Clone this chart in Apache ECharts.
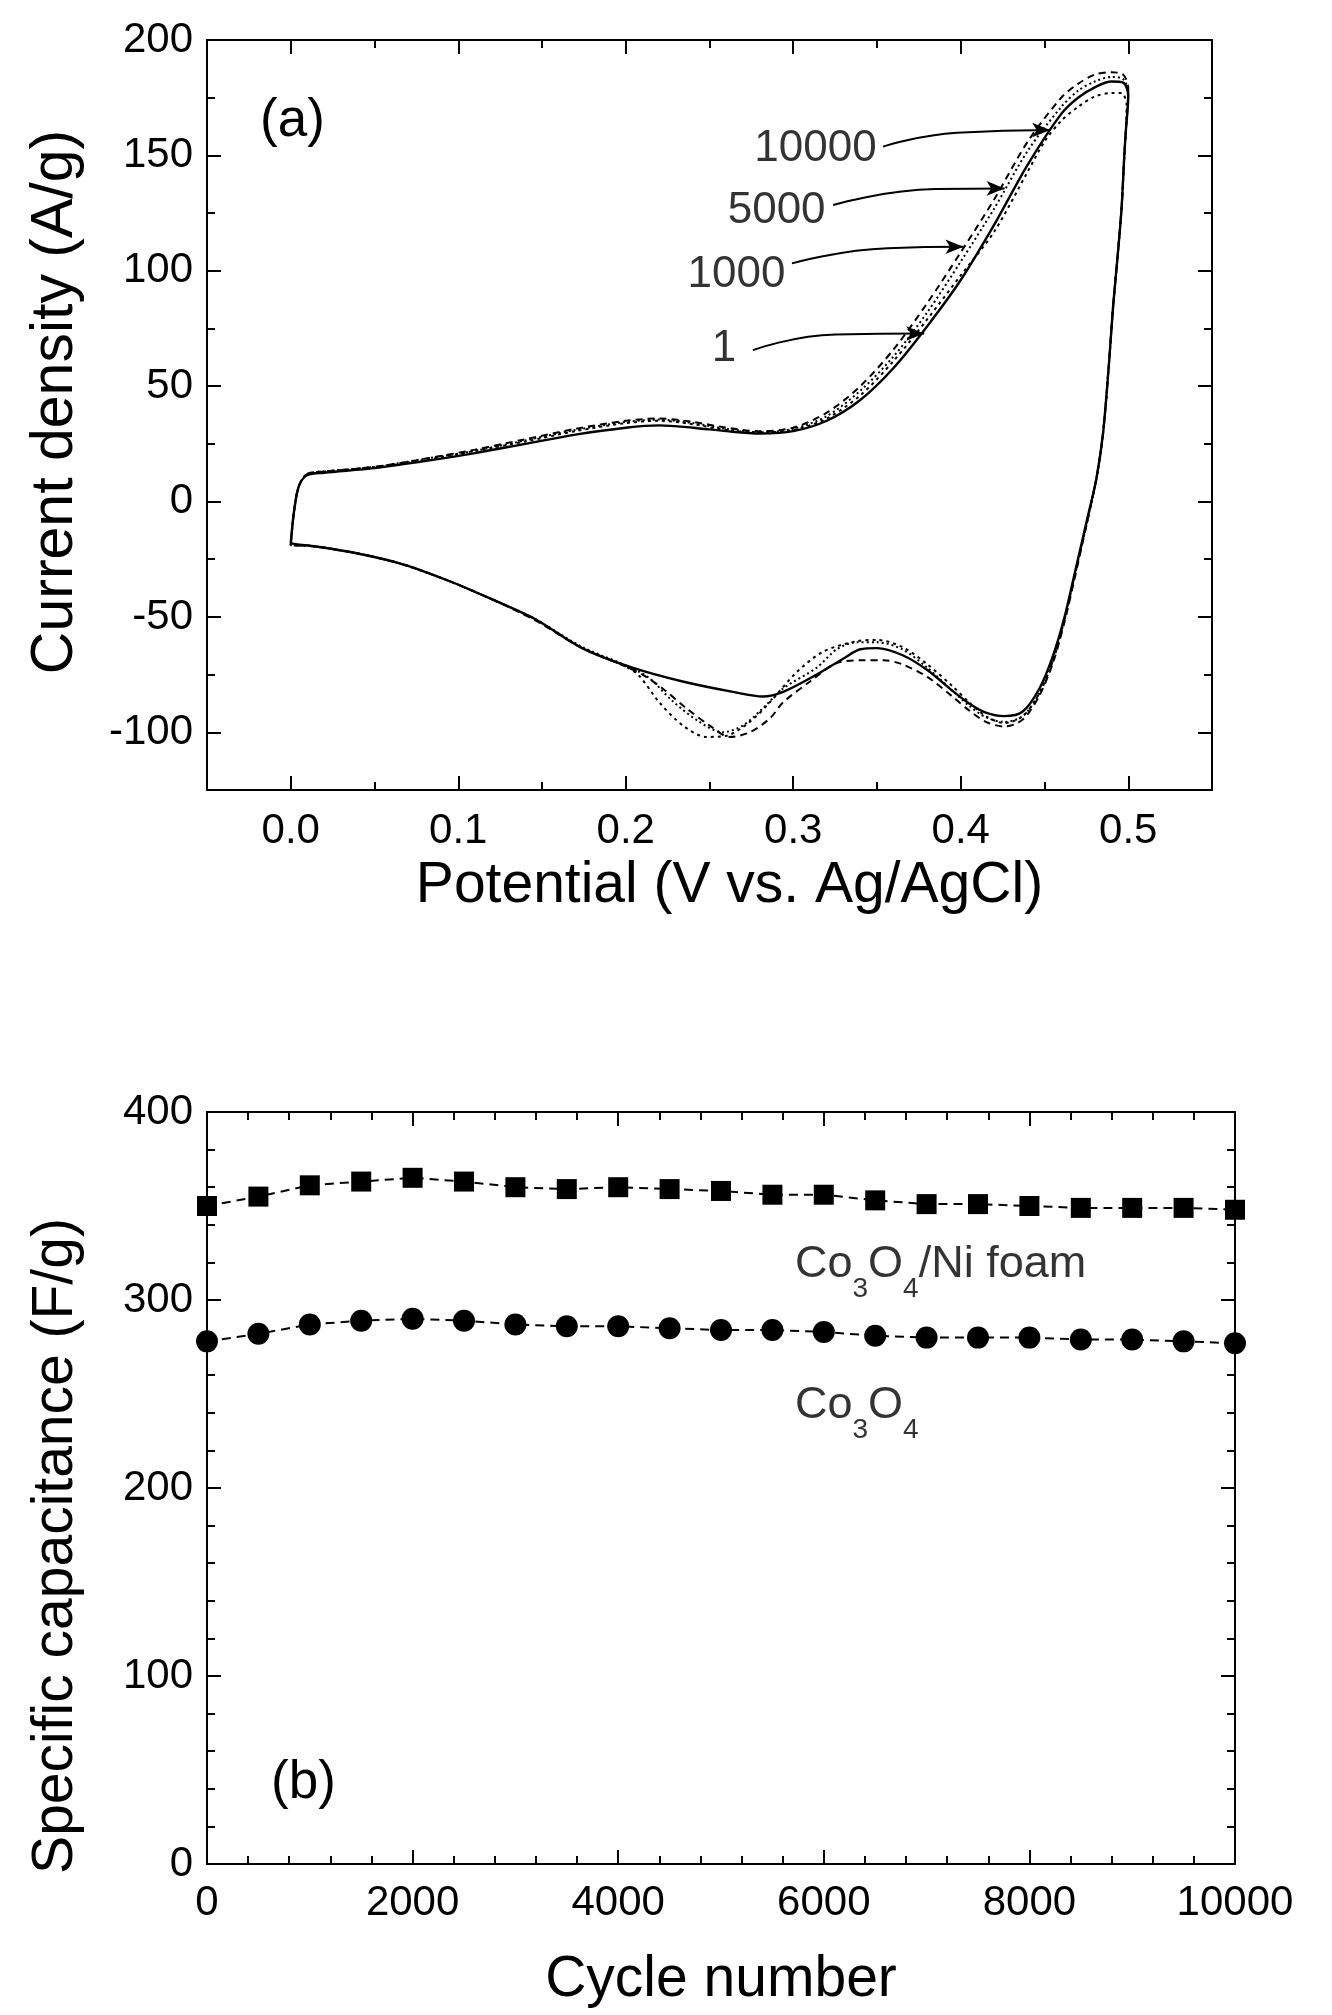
<!DOCTYPE html>
<html><head><meta charset="utf-8">
<script src="https://cdn.jsdelivr.net/npm/echarts@6.0.0/dist/echarts.min.js"></script>
<style>html,body{margin:0;padding:0;background:#fff}#chart{width:1332px;height:2015px}</style>
</head><body><div id="chart"></div>
<script>
const FONT = '"Liberation Sans", Arial, Helvetica, sans-serif';

// ---------- Panel (a): cyclic voltammograms [potential V, current A/g] ----------
const cycle1 = [[0,-18],[0.002,-4],[0.005,7],[0.01,11.5],[0.02,12.5],[0.05,14.5],[0.08,17.5],[0.11,21],[0.14,25],[0.17,29],[0.2,32],[0.22,33],[0.24,32],[0.26,30.5],[0.28,29.5],[0.3,30.5],[0.32,35],[0.34,44],[0.36,58],[0.38,76],[0.4,96],[0.42,120],[0.44,146],[0.46,168],[0.47,175],[0.48,179.5],[0.49,182],[0.497,181.5],[0.5,176],[0.4985,160],[0.4975,148],[0.496,127],[0.4935,105],[0.491,85],[0.4885,60],[0.485,30],[0.481,10],[0.476,-6],[0.469,-28],[0.462,-50],[0.455,-67],[0.447,-81],[0.437,-91],[0.426,-93],[0.415,-91.5],[0.405,-87.5],[0.395,-82],[0.38,-73],[0.365,-66.5],[0.35,-63.5],[0.34,-64],[0.33,-68],[0.314,-75],[0.294,-82.5],[0.282,-84.5],[0.264,-82.5],[0.234,-78],[0.204,-72],[0.174,-63.5],[0.146,-51],[0.119,-42],[0.093,-34],[0.066,-27],[0.04,-22.5],[0.015,-19.5],[0.003,-18.5],[0,-18]];
const cycle1000 = [[0,-19],[0.002,-4],[0.005,7],[0.01,12],[0.02,13],[0.05,15],[0.08,18.5],[0.11,22],[0.14,26.5],[0.17,31],[0.2,34.5],[0.22,35.5],[0.24,34],[0.26,31.5],[0.28,30],[0.3,31.5],[0.32,37],[0.34,48],[0.36,63],[0.38,82],[0.4,104],[0.42,127],[0.44,152],[0.46,171],[0.47,178],[0.48,182],[0.49,184],[0.497,183],[0.5,177],[0.4985,160],[0.4975,148],[0.496,127],[0.4935,105],[0.491,85],[0.4885,60],[0.485,30],[0.481,10],[0.476,-7],[0.469,-29],[0.462,-51],[0.455,-69],[0.447,-83],[0.437,-93],[0.426,-95.5],[0.415,-93.5],[0.405,-88.5],[0.395,-82],[0.38,-72],[0.365,-64],[0.35,-61],[0.338,-61],[0.326,-64],[0.314,-72],[0.294,-81],[0.282,-89.5],[0.27,-97],[0.258,-100],[0.244,-95.5],[0.228,-86.5],[0.214,-76.5],[0.2,-71],[0.174,-63],[0.146,-51],[0.119,-42],[0.093,-34],[0.066,-27],[0.04,-22.5],[0.015,-19.5],[0.003,-19],[0,-19]];
const cycle5000 = [[0,-19],[0.002,-4],[0.005,7],[0.01,12],[0.02,13],[0.05,15],[0.08,18.5],[0.11,22.5],[0.14,27],[0.17,31.5],[0.2,35],[0.22,36],[0.24,34.5],[0.26,32],[0.28,30.5],[0.3,32],[0.32,38.5],[0.34,50],[0.36,66],[0.38,86],[0.4,108],[0.42,131],[0.44,156],[0.46,175],[0.47,181],[0.48,185],[0.49,186],[0.497,185],[0.5,179],[0.4985,160],[0.4975,148],[0.496,127],[0.4935,105],[0.491,85],[0.4885,60],[0.485,30],[0.481,10],[0.476,-7],[0.469,-30],[0.462,-52],[0.455,-70],[0.447,-84],[0.437,-94.5],[0.426,-97.5],[0.415,-95.5],[0.405,-90.5],[0.395,-84.5],[0.38,-76],[0.365,-70.5],[0.354,-68.8],[0.342,-68.8],[0.326,-70],[0.31,-78],[0.294,-87],[0.286,-94],[0.274,-100],[0.262,-102],[0.25,-97],[0.236,-89.5],[0.222,-81],[0.21,-75],[0.2,-71.5],[0.174,-63.5],[0.146,-51.5],[0.119,-42],[0.093,-34],[0.066,-27],[0.04,-22.5],[0.015,-19.5],[0.003,-19],[0,-19]];
const cycle10000 = [[0,-19],[0.002,-4],[0.005,7],[0.01,12],[0.02,13],[0.05,15],[0.08,18],[0.11,22],[0.14,26],[0.17,30.5],[0.2,34],[0.22,35],[0.24,33.5],[0.26,31],[0.28,30],[0.3,31],[0.32,36],[0.34,46],[0.36,61],[0.38,79],[0.4,98],[0.42,117],[0.44,143],[0.45,156],[0.46,165],[0.47,171],[0.48,175.5],[0.49,177],[0.496,177],[0.499,172],[0.4985,160],[0.4975,148],[0.496,127],[0.4935,105],[0.491,85],[0.4885,60],[0.485,30],[0.481,10],[0.476,-7],[0.469,-29],[0.462,-51],[0.455,-69],[0.447,-83],[0.437,-93],[0.426,-96],[0.415,-93],[0.405,-87],[0.395,-80],[0.38,-70.5],[0.365,-63],[0.35,-60],[0.338,-60.5],[0.318,-65],[0.302,-74],[0.286,-87],[0.274,-95.5],[0.26,-101.5],[0.248,-102],[0.234,-97],[0.22,-87],[0.208,-75.5],[0.2,-71.5],[0.174,-63.5],[0.146,-51],[0.119,-42],[0.093,-34],[0.066,-27],[0.04,-22.5],[0.015,-19.5],[0.003,-19],[0,-19]];

const potentialTicks = [0, 0.1, 0.2, 0.3, 0.4, 0.5];
const currentTicks = [-100, -50, 0, 50, 100, 150, 200];

// cycle labels: text, label anchor, and the leader line (start, bend, arrow tip)
const cycleLabels = ['10000', '5000', '1000', '1'];
const cycleLabelAnchors = [[0.3498, 152.7], [0.3193, 126], [0.2953, 98.3], [0.266, 66]];
const leaderPaths = [
  [[0.3536, 153.8], [0.3977, 159.8], [0.4534, 161]],
  [[0.3238, 128.5], [0.3847, 135.4], [0.4262, 135.7]],
  [[0.2992, 103.2], [0.3562, 109.8], [0.4016, 110.4]],
  [[0.2759, 65.6], [0.3251, 72.4], [0.3782, 72.8]]
];

// ---------- Panel (b): specific capacitance vs cycle number ----------
const cycleNumbers = [0,500,1000,1500,2000,2500,3000,3500,4000,4500,5000,5500,6000,6500,7000,7500,8000,8500,9000,9500,10000];
const capNiFoam = [350,355,361,363,365,363,360,359,360,359,358,356,356,353,351,351,350,349,349,349,348];
const capCo3O4 = [278,282,287,289,290,289,287,286,286,285,284,284,283,281,280,280,280,279,279,278,277];
const seriesLabelAnchors = [[5720, 319], [5720, 244]];
const seriesLabelTexts = ['{m|Co}{s|3}{m|O}{s|4}{m|/Ni foam}', '{m|Co}{s|3}{m|O}{s|4}'];

const black = '#000';
const axisLine = { show: true, onZero: false, lineStyle: { color: black, width: 2 } };
const noLine = { show: false, onZero: false };
const labelStyle = { color: black, fontSize: 42, fontFamily: FONT };
const nameStyle = { color: black, fontSize: 57, fontFamily: FONT };
const tickStyle = { color: black, width: 2 };

function pair(a, b) { return a.map((v, i) => [v, b[i]]); }

const chart = echarts.init(document.getElementById('chart'), null, { renderer: 'canvas' });

const xAxes = [
  { gridIndex: 0, type: 'value', position: 'bottom', min: -0.05, max: 0.55,
    axisLine: axisLine, splitLine: { show: false },
    axisTick: { inside: true, length: 14, customValues: potentialTicks, lineStyle: tickStyle },
    axisLabel: { ...labelStyle, margin: 20, customValues: potentialTicks, formatter: v => v.toFixed(1) },
    name: 'Potential (V vs. Ag/AgCl)', nameLocation: 'middle', nameGap: 68,
    nameTextStyle: { ...nameStyle, padding: [0, 0, 0, 40] } },
  { gridIndex: 0, type: 'value', position: 'bottom', min: -0.05, max: 0.55, interval: 0.05,
    axisLine: noLine, splitLine: { show: false }, axisLabel: { show: false },
    axisTick: { inside: true, length: 8, lineStyle: tickStyle } },
  { gridIndex: 0, type: 'value', position: 'top', min: -0.05, max: 0.55,
    axisLine: axisLine, splitLine: { show: false }, axisLabel: { show: false },
    axisTick: { inside: true, length: 14, customValues: potentialTicks, lineStyle: tickStyle } },
  { gridIndex: 0, type: 'value', position: 'top', min: -0.05, max: 0.55, interval: 0.05,
    axisLine: noLine, splitLine: { show: false }, axisLabel: { show: false },
    axisTick: { inside: true, length: 8, lineStyle: tickStyle } },
  { gridIndex: 1, type: 'value', position: 'bottom', min: 0, max: 10000, interval: 2000,
    axisLine: axisLine, splitLine: { show: false },
    axisTick: { inside: true, length: 14, lineStyle: tickStyle },
    minorTick: { show: true, splitNumber: 5, length: 8, lineStyle: tickStyle },
    axisLabel: { ...labelStyle, margin: 18, formatter: v => String(v) },
    name: 'Cycle number', nameLocation: 'middle', nameGap: 88, nameTextStyle: nameStyle },
  { gridIndex: 1, type: 'value', position: 'top', min: 0, max: 10000, interval: 2000,
    axisLine: axisLine, splitLine: { show: false }, axisLabel: { show: false },
    axisTick: { inside: true, length: 14, lineStyle: tickStyle },
    minorTick: { show: true, splitNumber: 5, length: 8, lineStyle: tickStyle } }
];

const yAxes = [
  { gridIndex: 0, type: 'value', position: 'left', min: -125, max: 200,
    axisLine: axisLine, splitLine: { show: false },
    axisTick: { inside: true, length: 14, customValues: currentTicks, lineStyle: tickStyle },
    axisLabel: { ...labelStyle, margin: 14, customValues: currentTicks },
    name: 'Current density (A/g)', nameLocation: 'middle', nameRotate: 90, nameGap: 122,
    nameTextStyle: { ...nameStyle, fontSize: 59, padding: [0, 0, 0, 26] } },
  { gridIndex: 0, type: 'value', position: 'left', min: -125, max: 200, interval: 25,
    axisLine: noLine, splitLine: { show: false }, axisLabel: { show: false },
    axisTick: { inside: true, length: 8, lineStyle: tickStyle } },
  { gridIndex: 0, type: 'value', position: 'right', min: -125, max: 200,
    axisLine: axisLine, splitLine: { show: false }, axisLabel: { show: false },
    axisTick: { inside: true, length: 14, customValues: currentTicks, lineStyle: tickStyle } },
  { gridIndex: 0, type: 'value', position: 'right', min: -125, max: 200, interval: 25,
    axisLine: noLine, splitLine: { show: false }, axisLabel: { show: false },
    axisTick: { inside: true, length: 8, lineStyle: tickStyle } },
  { gridIndex: 1, type: 'value', position: 'left', min: 0, max: 400, interval: 100,
    axisLine: axisLine, splitLine: { show: false },
    axisTick: { inside: true, length: 14, lineStyle: tickStyle },
    minorTick: { show: true, splitNumber: 5, length: 8, lineStyle: tickStyle },
    axisLabel: { ...labelStyle, margin: 14 },
    name: 'Specific capacitance (F/g)', nameLocation: 'middle', nameRotate: 90, nameGap: 122,
    nameTextStyle: { ...nameStyle, padding: [0, 116, 0, 0] } },
  { gridIndex: 1, type: 'value', position: 'right', min: 0, max: 400, interval: 100,
    axisLine: axisLine, splitLine: { show: false }, axisLabel: { show: false },
    axisTick: { inside: true, length: 14, lineStyle: tickStyle },
    minorTick: { show: true, splitNumber: 5, length: 8, lineStyle: tickStyle } }
];

function cvSeries(name, data, type, width) {
  return { name, type: 'line', xAxisIndex: 0, yAxisIndex: 0, data, smooth: 0.3,
    showSymbol: false, symbol: 'none', clip: false,
    lineStyle: { color: black, width, type } };
}

function leaderSeries(path, i) {
  return { name: 'leader ' + cycleLabels[i], type: 'line', xAxisIndex: 0, yAxisIndex: 0, silent: true,
    smooth: 0.5, clip: false, showSymbol: true,
    data: path.map((p, k) => k === path.length - 1
      ? { value: p, symbol: 'arrow', symbolSize: [11, 18], symbolRotate: -90, itemStyle: { color: black } }
      : { value: p, symbol: 'none' }),
    lineStyle: { color: black, width: 2 } };
}

const series = [
  cvSeries('1', cycle1, 'solid', 2.4),
  cvSeries('1000', cycle1000, [2, 3], 2),
  cvSeries('5000', cycle5000, [7, 5], 2),
  cvSeries('10000', cycle10000, [3, 4], 2),
  ...leaderPaths.map(leaderSeries),
  { name: 'cycle labels', type: 'scatter', xAxisIndex: 0, yAxisIndex: 0, symbolSize: 0, silent: true,
    data: cycleLabelAnchors.map((p, i) => ({ value: p, label: { formatter: cycleLabels[i] } })),
    label: { show: true, position: 'left', distance: 0, color: black, fontSize: 44, fontFamily: FONT } },
  { name: 'Co3O4/Ni foam', type: 'line', xAxisIndex: 4, yAxisIndex: 4, data: pair(cycleNumbers, capNiFoam),
    symbol: 'rect', symbolSize: 20, clip: false,
    itemStyle: { color: black }, lineStyle: { color: black, width: 2, type: [9, 6] } },
  { name: 'Co3O4', type: 'line', xAxisIndex: 4, yAxisIndex: 4, data: pair(cycleNumbers, capCo3O4),
    symbol: 'circle', symbolSize: 22, clip: false,
    itemStyle: { color: black }, lineStyle: { color: black, width: 2, type: [9, 6] } },
  { name: 'series labels', type: 'scatter', xAxisIndex: 4, yAxisIndex: 4, symbolSize: 0, silent: true,
    data: seriesLabelAnchors.map((p, i) => ({ value: p, label: { formatter: seriesLabelTexts[i] } })),
    label: { show: true, position: 'right', distance: 0, color: black,
      rich: {
        m: { fontSize: 45, fontFamily: FONT, color: black, lineHeight: 78, verticalAlign: 'middle' },
        s: { fontSize: 28, fontFamily: FONT, color: black, lineHeight: 28, verticalAlign: 'bottom' }
      } } }
];

chart.setOption({
  animation: false,
  backgroundColor: '#fff',
  title: [
    { text: '(a)', left: 255, top: 90, textStyle: { fontSize: 53, fontWeight: 'normal', fontFamily: FONT, color: black } },
    { text: '(b)', left: 266, top: 1752, textStyle: { fontSize: 53, fontWeight: 'normal', fontFamily: FONT, color: black } }
  ],
  grid: [
    { left: 207, top: 40, width: 1005, height: 750 },
    { left: 207, top: 1112, width: 1028, height: 752 }
  ],
  xAxis: xAxes,
  yAxis: yAxes,
  series
});
</script></body></html>
